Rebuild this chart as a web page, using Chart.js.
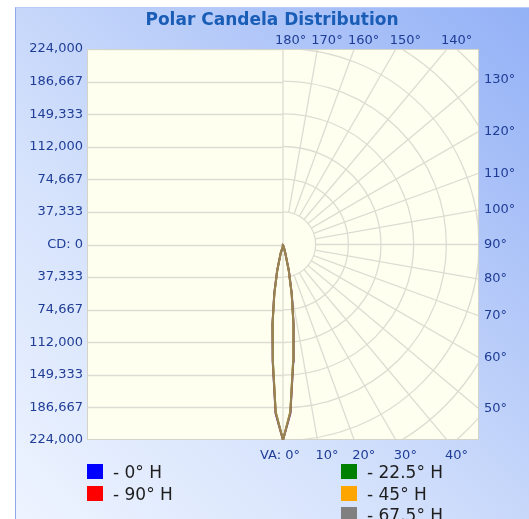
<!DOCTYPE html>
<html>
<head>
<meta charset="utf-8">
<script src="https://cdn.jsdelivr.net/npm/chart.js@4.4.1/dist/chart.umd.min.js"></script>
<style>
  html, body { margin: 0; padding: 0; background: #fff; }
  body { width: 529px; height: 519px; overflow: hidden; position: relative; font-family: 'DejaVu Sans', sans-serif; }
  #panel {
    position: absolute; left: 15px; top: 7px; width: 514px; height: 512px; box-sizing: border-box;
    border-left: 1px solid #8ea9e6; border-top: 1px solid #b6cbf6;
    background: linear-gradient(to top right, #eef4ff 0%, #d6e3fc 35%, #b8ccf9 65%, #93b1f6 100%);
  }
  #chart { position: absolute; left: 15px; top: 7px; }
  .legend-item { position: absolute; height: 16px; font-size: 17px; color: #1e1e1e; white-space: nowrap; }
  .legend-item .swatch { position: absolute; left: 0; top: 0; width: 16px; height: 15px; }
  .legend-item .label { position: absolute; left: 26px; top: -7px; line-height: 30px; }
</style>
</head>
<body>
<div id="panel"></div>
<canvas id="chart" width="514" height="512"></canvas>
<div id="legend"></div>
<script>
// --- DATA ---
const chartTitle = 'Polar Candela Distribution';
const cdMax = 224000;
const cdTickLabels = ['224,000', '186,667', '149,333', '112,000', '74,667', '37,333', 'CD: 0',
                      '37,333', '74,667', '112,000', '149,333', '186,667', '224,000'];
const gridAngles = [0, 10, 20, 30, 40, 50, 60, 70, 80, 90, 100, 110, 120, 130, 140, 150, 160, 170, 180];

// vertical angles (deg from nadir) and candela per horizontal plane
const vertAngles = [0, 2.5, 5, 7.5, 10, 12.5, 15, 17.5, 20, 25, 30, 40, 50, 60, 70, 80, 90];
const cdH0    = [224000, 194000, 135000, 92500, 57800, 31200, 10600, 2700, 700, 300, 200, 120, 80, 50, 30, 10, 0];
const cdH22_5 = [224000, 192000, 133500, 91500, 57000, 30500, 10000, 2500, 650, 280, 190, 110, 75, 45, 25, 10, 0];
const cdH45   = [224000, 191500, 133000, 91000, 56800, 30000, 9800, 2400, 600, 270, 180, 100, 70, 40, 25, 10, 0];
const cdH67_5 = [224000, 192000, 133500, 91200, 57200, 30300, 10000, 2500, 650, 280, 190, 110, 75, 45, 25, 10, 0];
const cdH90   = [224000, 193000, 134200, 91800, 57400, 30800, 10300, 2550, 680, 290, 195, 115, 78, 48, 28, 10, 0];

const seriesNames  = ['0° H', '22.5° H', '45° H', '67.5° H', '90° H'];
const seriesValues = [cdH0, cdH22_5, cdH45, cdH67_5, cdH90];
const seriesColors = ['#0000ff', '#008000', '#ffa500', '#808080', '#ff0000'];
const seriesOrder  = [4, 2, 1, 0, 3];          // lower = drawn on top
const legendColumns = [[0, 4], [1, 2, 3]];

// --- HELPERS ---
const toRad = (d) => d * Math.PI / 180;
const withAlpha = (hex, a) => {
    const n = parseInt(hex.slice(1), 16);
    return `rgba(${(n >> 16) & 255}, ${(n >> 8) & 255}, ${n & 255}, ${a})`;
};

// closed loop: left half (mirror) from 90° down to 0°, then right half back up to 90°
function polarPoints(values) {
    const pts = [];
    for (let i = vertAngles.length - 1; i >= 0; i--) {
        const a = toRad(vertAngles[i]);
        pts.push({ x: -values[i] * Math.sin(a), y: -values[i] * Math.cos(a) });
    }
    for (let i = 1; i < vertAngles.length; i++) {
        const a = toRad(vertAngles[i]);
        pts.push({ x: values[i] * Math.sin(a), y: -values[i] * Math.cos(a) });
    }
    return pts;
}

const LABEL_COLOR = '#1f3d96';
const GRID_COLOR = '#dcdcd2';
const LABEL_FONT = '13px "DejaVu Sans"';

// --- POLAR GRID + ANGLE LABELS ---
const polarGrid = {
    id: 'polarGrid',
    beforeDatasetsDraw(chart) {
        const { ctx, chartArea: a, scales: { x, y } } = chart;
        const cx = x.getPixelForValue(0), cy = y.getPixelForValue(0);
        const step = x.getPixelForValue(cdMax / 6) - cx;

        ctx.save();
        ctx.fillStyle = '#fffff0';
        ctx.fillRect(a.left, a.top, a.width, a.height);
        ctx.beginPath();
        ctx.rect(a.left, a.top, a.width, a.height);
        ctx.clip();
        ctx.strokeStyle = GRID_COLOR;
        ctx.lineWidth = 1.3;

        // horizontal lines on the left half
        y.ticks.forEach(t => {
            const py = Math.round(y.getPixelForValue(t.value)) + 0.5;
            ctx.beginPath(); ctx.moveTo(a.left, py); ctx.lineTo(cx, py); ctx.stroke();
        });
        ctx.beginPath(); ctx.moveTo(cx, a.top); ctx.lineTo(cx, a.bottom); ctx.stroke();

        // arcs on the right half
        for (let k = 1; k <= 8; k++) {
            ctx.beginPath();
            ctx.arc(cx, cy, k * step, -Math.PI / 2, Math.PI / 2);
            ctx.stroke();
        }
        // radial lines
        gridAngles.forEach(deg => {
            if (deg === 0 || deg === 180) return;
            const s = Math.sin(toRad(deg)), c = Math.cos(toRad(deg));
            ctx.beginPath();
            ctx.moveTo(cx + step * s, cy + step * c);
            ctx.lineTo(cx + 400 * s, cy + 400 * c);
            ctx.stroke();
        });
        ctx.restore();

        ctx.save();
        ctx.strokeStyle = '#d4d4ca';
        ctx.lineWidth = 1;
        ctx.strokeRect(a.left + 0.5, a.top + 0.5, a.width - 1, a.height - 1);
        ctx.restore();
    },
    afterDraw(chart) {
        const { ctx, chartArea: a, scales: { x, y } } = chart;
        const cx = x.getPixelForValue(0), cy = y.getPixelForValue(0);
        const halfW = a.right - cx, halfH = a.bottom - cy;
        ctx.save();
        ctx.font = LABEL_FONT;
        ctx.fillStyle = LABEL_COLOR;
        ctx.textBaseline = 'middle';

        const top = [];
        gridAngles.forEach(deg => {
            const txt = `${deg}°`;
            if (deg < 45) {
                const px = cx + halfH * Math.tan(toRad(deg));
                if (deg === 0) {
                    ctx.textAlign = 'right';
                    ctx.fillText('VA: ' + txt, px + 17, a.bottom + 16);
                } else {
                    ctx.textAlign = 'center';
                    ctx.fillText(txt, px + 9.5, a.bottom + 16);
                }
            } else if (deg > 135) {
                const px = cx + (cy - a.top) * Math.tan(toRad(180 - deg));
                top.push({ txt, cxLabel: px + 9.5, w: ctx.measureText(txt).width });
            } else {
                const py = cy + halfW / Math.tan(toRad(deg));
                ctx.textAlign = 'left';
                ctx.fillText(txt, a.right + 5, py);
            }
        });
        // top labels: push left where they would collide
        top.sort((p, q) => q.cxLabel - p.cxLabel);
        for (let i = 1; i < top.length; i++) {
            const prevLeft = top[i - 1].cxLabel - top[i - 1].w / 2;
            const maxCx = prevLeft - 5 - top[i].w / 2;
            if (top[i].cxLabel > maxCx) top[i].cxLabel = maxCx;
        }
        ctx.textAlign = 'center';
        top.forEach(t => ctx.fillText(t.txt, t.cxLabel, a.top - 8));
        ctx.restore();
    }
};

// --- CHART ---
const datasets = seriesValues.map((vals, i) => ({
    label: seriesNames[i],
    data: polarPoints(vals),
    showLine: true,
    borderColor: withAlpha(seriesColors[i], 0.6),
    borderWidth: 2,
    pointRadius: 0,
    fill: false,
    tension: 0,
    order: seriesOrder[i]
}));

new Chart(document.getElementById('chart'), {
    type: 'scatter',
    data: { datasets },
    plugins: [polarGrid],
    options: {
        responsive: false,
        animation: false,
        layout: { padding: { left: 0, right: 0, top: 0, bottom: 79 } },
        plugins: {
            legend: { display: false },
            tooltip: { enabled: false },
            title: {
                display: true,
                text: chartTitle,
                color: '#1a5db6',
                font: { family: 'DejaVu Sans', size: 17, weight: 'bold', lineHeight: 1.2 },
                padding: { top: 3, bottom: 18.6 }
            }
        },
        scales: {
            x: { type: 'linear', display: false, min: -cdMax, max: cdMax },
            y: {
                type: 'linear', position: 'left', min: -cdMax, max: cdMax,
                afterBuildTicks: (s) => { s.ticks = cdTickLabels.map((_, i) => ({ value: -cdMax + i * cdMax / 6 })); },
                afterFit: (s) => { s.width = 72; },
                ticks: {
                    callback: (v, i) => cdTickLabels[i],
                    color: LABEL_COLOR,
                    font: { family: 'DejaVu Sans', size: 13 },
                    padding: 4
                },
                grid: { display: false, drawTicks: false },
                border: { display: false }
            },
            y2: {
                type: 'linear', position: 'right', min: -cdMax, max: cdMax,
                afterFit: (s) => { s.width = 50; },
                ticks: { display: false },
                grid: { display: false, drawTicks: false },
                border: { display: false }
            }
        }
    }
});

// --- LEGEND ---
const legend = document.getElementById('legend');
const colLeft = [87, 341];
legendColumns.forEach((col, c) => {
    col.forEach((idx, r) => {
        const item = document.createElement('div');
        item.className = 'legend-item';
        item.style.left = colLeft[c] + 'px';
        item.style.top = (464 + r * 21.5) + 'px';
        const sw = document.createElement('span');
        sw.className = 'swatch';
        sw.style.background = seriesColors[idx];
        const lb = document.createElement('span');
        lb.className = 'label';
        lb.textContent = '- ' + seriesNames[idx];
        item.appendChild(sw);
        item.appendChild(lb);
        legend.appendChild(item);
    });
});
</script>
</body>
</html>
